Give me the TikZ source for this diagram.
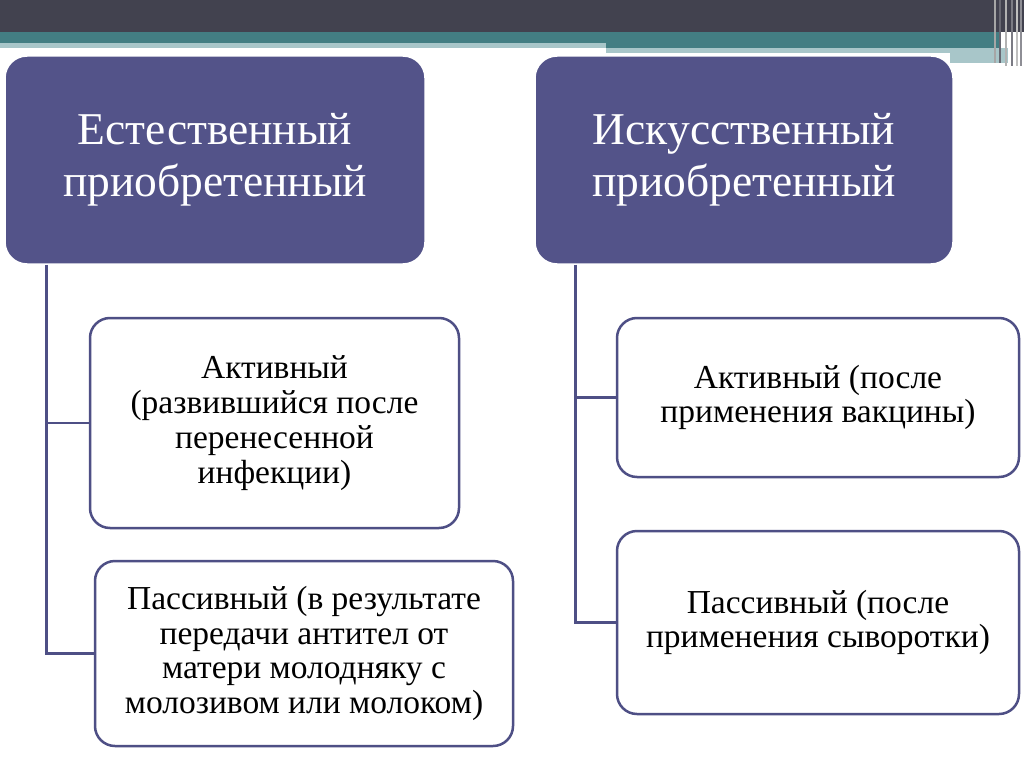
\documentclass[tikz,border=0pt]{standalone}
\usepackage{fontspec}
\setmainfont{Liberation Serif}
\definecolor{darkbar}{HTML}{42424F}
\definecolor{tealbar}{HTML}{437E83}
\definecolor{lightbar}{HTML}{A8C6C9}
\definecolor{headfill}{HTML}{535389}
\definecolor{lineblue}{HTML}{4E4F85}
\tikzset{
  headbox/.style={draw=white, line width=1.5pt, fill=headfill, rounded corners=22pt, text=white, align=center, inner sep=0pt,
    font=\fontsize{45.5}{52}\selectfont},
  subbox/.style={draw=lineblue, line width=2.5pt, fill=white, rounded corners=20pt, text=black, align=center, inner sep=0pt,
    font=\fontsize{33.5}{34.8}\selectfont},
  link/.style={draw=lineblue, line width=2.5pt},
  stripe/.style={line width=1.2pt}
}
\begin{document}
\begin{tikzpicture}[x=1pt,y=-1pt]
\useasboundingbox (0,0) rectangle (1024,767);
\fill[white] (0,0) rectangle (1024,767);
% top bars
\fill[darkbar] (0,0) rectangle (1024,32);
\fill[tealbar] (0,32) rectangle (1000,43);
\fill[tealbar] (606,43) rectangle (1000,48);
\fill[lightbar] (0,43) rectangle (606,48);
\fill[lightbar] (606,48) rectangle (950,53);
\fill[lightbar] (950,48) rectangle (1008,63);
\draw[stripe, draw=gray!70] (995,0) -- (995,63);
\draw[stripe, draw=darkbar!80] (1000,0) -- (1000,63);
\draw[stripe, draw=gray!60] (1006,0) -- (1006,66);
\draw[stripe, draw=darkbar!70] (1012,0) -- (1012,66);
\draw[stripe, draw=gray!50] (1017,0) -- (1017,66);
\draw[stripe, draw=darkbar!60] (1021,0) -- (1021,66);
% header boxes
\node[headbox, minimum width=420pt, minimum height=208pt] (hl) at (215,160) {Естественный\\приобретенный};
\node[headbox, minimum width=418pt, minimum height=208pt] (hr) at (744,160) {Искусственный\\приобретенный};
% sub boxes
\node[subbox, minimum width=369pt, minimum height=210pt] (ba) at (274.5,423) {Активный\\(развившийся после\\перенесенной\\инфекции)};
\node[subbox, minimum width=418pt, minimum height=185pt] (bb) at (304,653.5) {Пассивный (в результате\\передачи антител от\\матери молодняку с\\молозивом или молоком)};
\node[subbox, minimum width=402pt, minimum height=159pt] (bc) at (818,397.5) {Активный (после\\применения вакцины)};
\node[subbox, minimum width=402pt, minimum height=183pt] (bd) at (818,622.5) {Пассивный (после\\применения сыворотки)};
% connectors
\draw[link] (hl.south west) ++(42,0) |- (ba.west);
\draw[link] (hl.south west) ++(42,0) |- (bb.west);
\draw[link] (hr.south west) ++(41,0) |- (bc.west);
\draw[link] (hr.south west) ++(41,0) |- (bd.west);
\end{tikzpicture}
\end{document}
